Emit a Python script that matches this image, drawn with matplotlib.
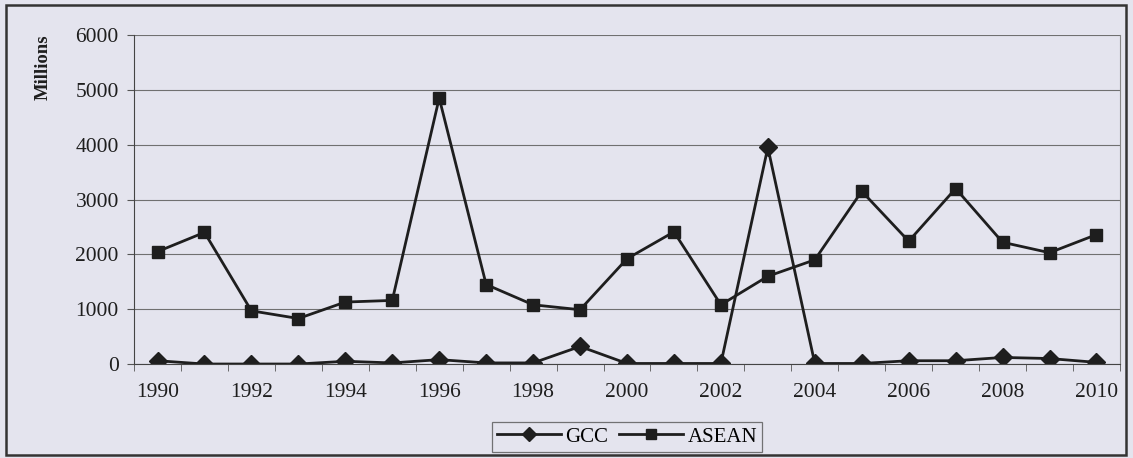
import matplotlib
matplotlib.use("Agg")
import matplotlib.pyplot as plt
from matplotlib.patches import Rectangle

years = list(range(1990, 2011))
gcc = [60, 0, 0, 0, 50, 20, 80, 20, 20, 320, 10, 10, 10, 3950,
       10, 10, 60, 60, 120, 100, 30]
asean = [2050, 2400, 970, 830, 1130, 1160, 4850, 1450, 1080, 990, 1920,
         2410, 1080, 1600, 1900, 3150, 2240, 3200, 2220, 2030, 2360]
yticks = [0, 1000, 2000, 3000, 4000, 5000, 6000]

plt.rcParams['font.family'] = ['Liberation Serif', 'DejaVu Serif']
bg = '#e4e4ee'
ink = '#1e1e1e'

fig = plt.figure(figsize=(11.33, 4.58), dpi=100, facecolor=bg)
ax = fig.add_axes([0.1183, 0.2052, 0.8702, 0.7184], facecolor=bg)

ax.plot(years, gcc, color=ink, lw=2.0, marker='D', ms=9, label='GCC')
ax.plot(years, asean, color=ink, lw=2.0, marker='s', ms=9, label='ASEAN')

ax.set_xlim(1989.5, 2010.5)
ax.set_ylim(0, 6000)
ax.set_yticks(yticks)
ax.set_xticks(years[::2])
ax.set_xticks([y + 0.5 for y in [1989] + years], minor=True)
ax.tick_params(axis='x', which='major', length=0, pad=14, labelsize=15.5, colors=ink)
ax.tick_params(axis='x', which='minor', length=5, color='#555555', direction='out')
ax.tick_params(axis='y', length=5, color='#555555', labelsize=15.5, colors=ink, pad=6)

ax.grid(axis='y', color='#707070', lw=0.8)
ax.set_axisbelow(True)
ax.spines['top'].set_visible(False)
ax.spines['left'].set_color('#444444')
ax.spines['bottom'].set_color('#444444')
ax.spines['right'].set_color('#888888')
ax.spines['right'].set_linewidth(0.8)

fig.text(43 / 1133, 1 - 67 / 458, 'Millions', rotation=90, ha='center', va='center',
         fontsize=13.5, fontweight='bold', color=ink)

leg = ax.legend(loc='center', bbox_to_anchor=(627 / 1133, 1 - 437 / 458),
                bbox_transform=fig.transFigure, ncol=2, frameon=True, fancybox=False,
                fontsize=15, handlelength=3.1, columnspacing=0.5, handletextpad=0.2,
                borderpad=0.25, markerscale=0.75)
leg.get_frame().set_facecolor(bg)
leg.get_frame().set_edgecolor('#555555')
leg.get_frame().set_linewidth(0.9)

fig.patches.append(Rectangle((6 / 1133, 3 / 458), 1120 / 1133, 450 / 458,
                             transform=fig.transFigure, fill=False,
                             edgecolor='#333333', lw=1.8))

fig.savefig('out.png', dpi=100, facecolor=bg)
